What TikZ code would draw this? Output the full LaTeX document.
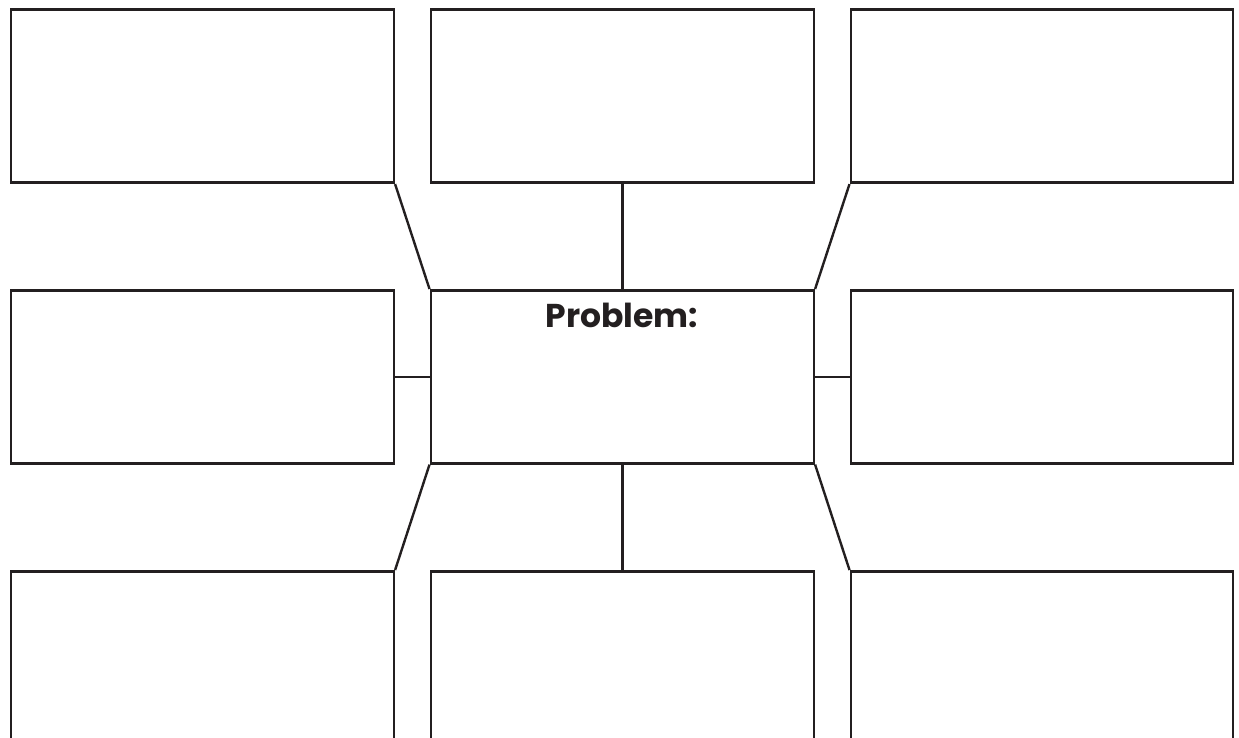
\documentclass[tikz,border=0pt]{standalone}
\usepackage{fontspec}
\setmainfont{Poppins}
\definecolor{ink}{HTML}{231F20}
\begin{document}
\begin{tikzpicture}[x=1pt,y=-1pt,
  box/.style={draw=ink,line width=2.6pt,rectangle,inner sep=0pt,anchor=north west},
  link/.style={draw=ink,line width=2.4pt}]
\useasboundingbox (0,0) rectangle (1239,738);
\clip (0,0) rectangle (1239,738);
% row 1
\node[box,minimum width=383pt,minimum height=173pt] (tl) at (9.5,8.5) {};
\node[box,minimum width=383pt,minimum height=173pt] (tm) at (429.5,8.5) {};
\node[box,minimum width=382pt,minimum height=173pt] (tr) at (849.5,8.5) {};
% row 2
\node[box,minimum width=383pt,minimum height=173pt] (ml) at (9.5,289) {};
\node[box,minimum width=383pt,minimum height=173pt] (c) at (429.5,289) {};
\node[box,minimum width=382pt,minimum height=173pt] (mr) at (849.5,289) {};
% row 3 (runs off the bottom)
\node[box,minimum width=383pt,minimum height=200pt] (bl) at (9.5,570) {};
\node[box,minimum width=383pt,minimum height=200pt] (bm) at (429.5,570) {};
\node[box,minimum width=382pt,minimum height=200pt] (br) at (849.5,570) {};
% title
\node[font=\bfseries\fontsize{33}{36}\selectfont,text=ink,anchor=base] (t) at (622,327.5) {Problem:};
% connectors
\draw[link] (tl.south east) -- (c.north west);
\draw[link] (tm.south) -- (c.north);
\draw[link] (tr.south west) -- (c.north east);
\draw[link] (ml.east) -- (c.west);
\draw[link] (c.east) -- (mr.west);
\draw[link] (c.south west) -- (bl.north east);
\draw[link] (c.south) -- (bm.north);
\draw[link] (c.south east) -- (br.north west);
\end{tikzpicture}
\end{document}
